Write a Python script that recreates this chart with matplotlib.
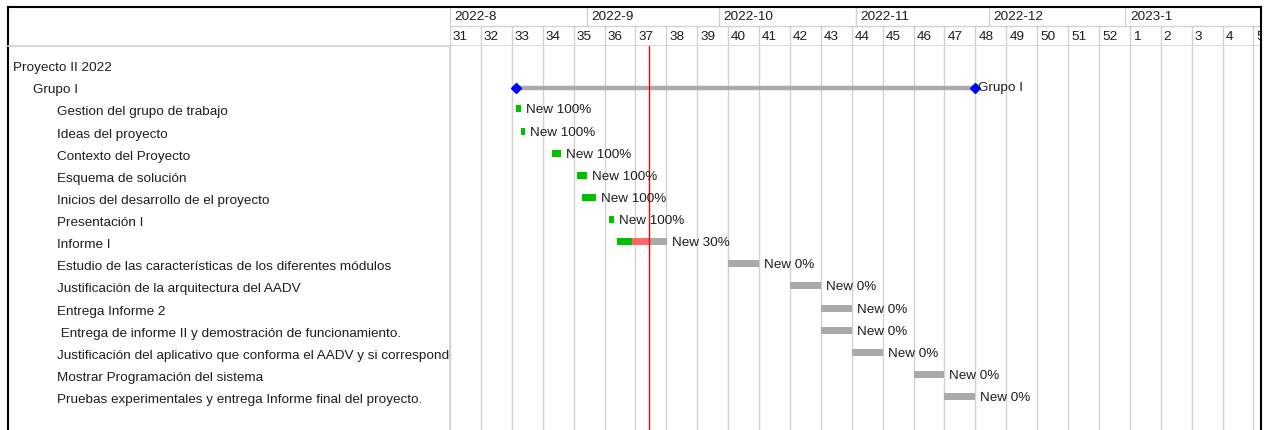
import matplotlib
matplotlib.use("Agg")
import matplotlib.pyplot as plt
import matplotlib.dates as mdates
from matplotlib.transforms import offset_copy
from datetime import datetime, timedelta

plt.rcParams['font.family'] = ['Liberation Sans', 'DejaVu Sans']

# task table
names = ["Proyecto II 2022", "Grupo I",
         "Gestion del grupo de trabajo", "Ideas del proyecto",
         "Contexto del Proyecto", "Esquema de solución",
         "Inicios del desarrollo de el proyecto", "Presentación I",
         "Informe I",
         "Estudio de las características de los diferentes módulos",
         "Justificación de la arquitectura del AADV",
         "Entrega Informe 2",
         " Entrega de informe II y demostración de funcionamiento.",
         "Justificación del aplicativo que conforma el AADV y si corresponde",
         "Mostrar Programación del sistema",
         "Pruebas experimentales y entrega Informe final del proyecto."]
level = [0, 1, 2, 2, 2, 2, 2, 2, 2, 2, 2, 2, 2, 2, 2, 2]

task_rows = [2, 3, 4, 5, 6, 7, 8, 9, 10, 11, 12, 13, 14, 15]
task_start = ["2022-08-16 00:00", "2022-08-17 00:00", "2022-08-24 00:00",
              "2022-08-29 20:00", "2022-08-30 22:00", "2022-09-06 00:00",
              "2022-09-07 20:00", "2022-10-03 00:00", "2022-10-17 00:00",
              "2022-10-24 00:00", "2022-10-24 00:00", "2022-10-31 00:00",
              "2022-11-14 00:00", "2022-11-21 00:00"]
task_days = [1.0, 1.0, 2.2, 2.27, 3.2, 1.1, 11.3, 7, 7, 7, 7, 7, 7, 7]
task_done = [1.0, 1.0, 1.0, 1.0, 1.0, 1.0, 0.3, 0, 0, 0, 0, 0, 0, 0]

summary_row = 1
summary_name = "Grupo I"
summary_start = "2022-08-16"
summary_end = "2022-11-28"

today = "2022-09-15"
view_start = "2022-08-01"
view_days = 183.7

W, H = 1266, 430
GREEN = "#00c000"
LATE = "#ff6666"
GREY = "#aaaaaa"
GRID = "#d2d2d2"
TXT = "#1e1e1e"
FS = 9.7


def d(s):
    return mdates.date2num(datetime.fromisoformat(s))


fig = plt.figure(figsize=(W / 100, H / 100), dpi=100)

x0 = d(view_start)
x1 = x0 + view_days

# body
ax = fig.add_axes([450 / W, 0, (1261 - 450) / W, 384 / H])
ax_left = fig.add_axes([8 / W, 0, (450 - 8) / W, 384 / H], sharey=ax)
ax_head = fig.add_axes([450 / W, 384 / H, (1261 - 450) / W, 39 / H], sharex=ax)
frame = fig.add_axes([8 / W, 0, (1261 - 8) / W, 423 / H])
frame.set_facecolor("none")
frame.set_xticks([])
frame.set_yticks([])
for side in ["top", "left", "right"]:
    frame.spines[side].set_color("black")
    frame.spines[side].set_linewidth(1.5)
frame.spines["bottom"].set_visible(False)

ax.set_xlim(x0, x1)
ax.set_ylim(16.51, -0.845)
for a in [ax, ax_left, ax_head]:
    a.set_xticks([])
    a.set_yticks([])
    for s in a.spines.values():
        s.set_visible(False)

# weeks and months
mondays = []
day = datetime.fromisoformat(view_start)
while mdates.date2num(day) < x1:
    mondays.append(day)
    day += timedelta(days=7)
months = []
m = datetime.fromisoformat(view_start)
while mdates.date2num(m) < x1:
    months.append(m)
    m = datetime(m.year + m.month // 12, m.month % 12 + 1, 1)

ax_head.set_ylim(46, 7)
ax_head.axhline(26, color=GRID, lw=1)
ax_head.axhline(46, color=GRID, lw=1.2)
head_off = offset_copy(ax_head.transData, fig, x=3, units="dots")
for wk in mondays:
    xv = mdates.date2num(wk)
    ax_head.plot([xv, xv], [26, 46], color=GRID, lw=1)
    ax_head.text(xv, 36.5, str(wk.isocalendar()[1]), transform=head_off,
                 fontsize=FS, color=TXT, va="center", ha="left", clip_on=True)
    ax.axvline(xv, color=GRID, lw=1, zorder=0)
month_off = offset_copy(ax_head.transData, fig, x=4.5, units="dots")
for mo in months:
    xv = mdates.date2num(mo)
    ax_head.plot([xv, xv], [7, 26], color=GRID, lw=1)
    ax_head.text(xv, 16.5, f"{mo.year}-{mo.month}", transform=month_off,
                 fontsize=FS, color=TXT, va="center", ha="left", clip_on=True)

# left panel
ax_left.set_xlim(0, 442)
ax_left.axvline(442, color=GRID, lw=1.2)
indent_px = [5, 25, 49]
name_off = offset_copy(ax_left.transData, fig, y=-2, units="dots")
for i, (nm, lv) in enumerate(zip(names, level)):
    ax_left.text(indent_px[lv], i, nm, transform=name_off, fontsize=FS,
                 color=TXT, va="center_baseline", ha="left", clip_on=True)
fig.add_artist(plt.Line2D([8 / W, 450 / W], [384 / H, 384 / H], color=GRID, lw=1.2))

# summary bar
s0, s1 = d(summary_start), d(summary_end)
ax.plot([s0, s1], [summary_row + 0.07] * 2, color=GREY, lw=3.2,
        solid_capstyle="butt", zorder=2)
ax.plot([s0, s1], [summary_row + 0.07] * 2, ls="none", marker="D",
        color="#0000ff", markersize=5, zorder=3)
lab_off = offset_copy(ax.transData, fig, x=3, units="dots")
ax.text(s1, summary_row, summary_name, transform=lab_off, fontsize=FS,
        color=TXT, va="center_baseline", ha="left")

# task bars
t_today = d(today)
bar_h = 0.32
lab_off = offset_copy(ax.transData, fig, x=5, units="dots")
for r, st, du, dn in zip(task_rows, task_start, task_days, task_done):
    b = d(st)
    e = b + du
    c = b + du * dn
    if dn > 0:
        ax.barh(r, c - b, left=b, height=bar_h, color=GREEN, zorder=2)
    if c < e:
        late_end = min(max(t_today, c), e)
        if late_end > c:
            ax.barh(r, late_end - c, left=c, height=bar_h, color=LATE, zorder=2)
        rest = max(late_end, c)
        ax.barh(r, e - rest, left=rest, height=bar_h, color=GREY, zorder=2)
    ax.text(e, r, f"New {round(dn * 100)}%", transform=lab_off, fontsize=FS,
            color=TXT, va="center_baseline", ha="left", zorder=4)

# today line
ax.axvline(t_today, color="#ff0000", lw=1, zorder=3)

fig.savefig("out.png", dpi=100)
